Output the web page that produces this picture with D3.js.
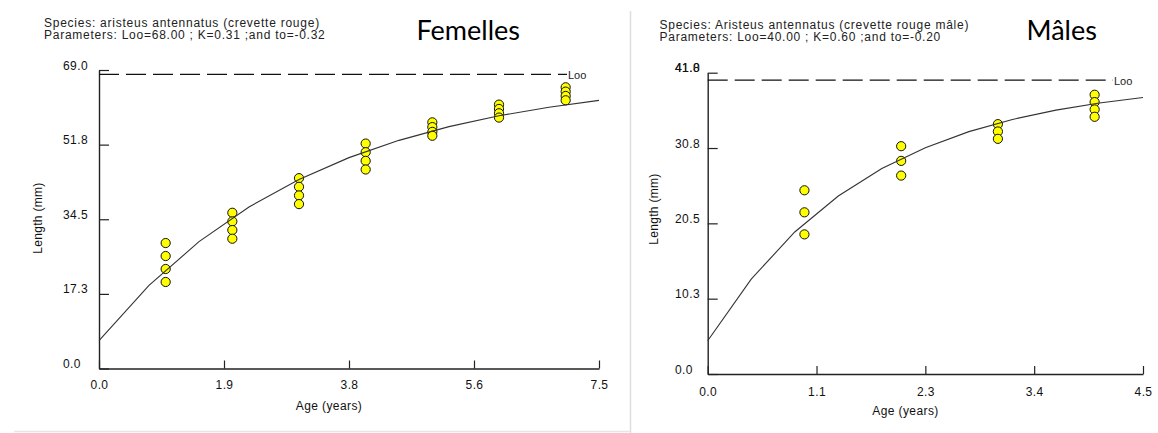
<!DOCTYPE html>
<html><head><meta charset="utf-8">
<script src="https://cdn.jsdelivr.net/npm/d3@7"></script>
<style>
html,body{margin:0;padding:0;background:#fff;}
svg{display:block;}
text{font-family:"Liberation Sans",Arial,sans-serif;fill:#111;}
</style></head><body>
<svg id="c" width="1158" height="433"></svg>
<script>
// ---------- data ----------
const titles = ["Femelles", "Mâles"];

const femaleHeader = ["Species: aristeus antennatus (crevette rouge)",
                      "Parameters: Loo=68.00 ; K=0.31 ;and to=-0.32"];
const femaleParams = [68.00, 0.31, -0.32]; // Loo, K, t0
const femaleAges    = [1,1,1,1, 2,2,2,2, 3,3,3,3, 4,4,4,4, 5,5,5,5, 6,6,6,6, 7,7,7,7];
const femaleLengths = [29,26,23,20, 36,34,32,30, 44,42,40,38, 52,50,48,46,
                       56.9,55.8,54.7,53.8, 61,60,59,58, 65,64,63,62];
const femaleXTicks  = [0, 1.875, 3.75, 5.625, 7.5];
const femaleXLabels = ["0.0","1.9","3.8","5.6","7.5"];
const femaleYTicks  = [0, 17.25, 34.5, 51.75, 69];
const femaleYLabels = ["0.0","17.3","34.5","51.8","69.0"];

const maleHeader = ["Species: Aristeus antennatus (crevette rouge mâle)",
                    "Parameters: Loo=40.00 ; K=0.60 ;and to=-0.20"];
const maleParams = [40.00, 0.60, -0.20];
const maleAges    = [1,1,1, 2,2,2, 3,3,3, 4,4,4,4];
const maleLengths = [25,22,19, 31,29,27, 34,33,32, 38,37,36,35];
const maleXTicks  = [0, 1.125, 2.25, 3.375, 4.5];
const maleXLabels = ["0.0","1.1","2.3","3.4","4.5"];
const maleYTicks  = [0, 10.25, 20.5, 30.75, 41];
const maleYLabels = ["0.0","10.3","20.5","30.8","41.0"];
const maleYOverprint = ["41.8"];

const xTitle = "Age (years)";
const yTitle = "Length (mm)";
const looLabel = "Loo";

// ---------- drawing ----------
const svg = d3.select("#c");

// faint frame of the left screenshot
svg.append("line").attr("x1",630.5).attr("x2",630.5).attr("y1",11).attr("y2",433)
   .attr("stroke","#dedede").attr("stroke-width",1.5);
svg.append("line").attr("x1",14).attr("x2",630).attr("y1",431.5).attr("y2",431.5)
   .attr("stroke","#e6e6e6").attr("stroke-width",1.5);

function panel(p, L){
  const x = d3.scaleLinear().domain([0, p.xTicks[p.xTicks.length-1]]).range([L.x0, L.x1]);
  const y = d3.scaleLinear().domain([0, p.yTicks[p.yTicks.length-1]]).range([L.yBot, L.yTop]);
  const g = svg.append("g");

  // header
  p.header.forEach((t,i)=>{
    g.append("text").attr("x",L.headX).attr("y",L.headY + i*12)
     .style("font-size","12px").style("letter-spacing","0.75px").style("fill","#222").text(t);
  });
  g.append("text").attr("x",L.titleX).attr("y",L.titleY)
   .style("font-family","Lato, 'Open Sans', sans-serif").style("font-size","27px")
   .style("fill","#000").text(p.title);

  // points (under the curve)
  g.append("g").selectAll("circle").data(p.ages.map((a,i)=>[a,p.lengths[i]]))
   .join("circle").attr("cx",d=>x(d[0])).attr("cy",d=>y(d[1])).attr("r",4.6)
   .attr("fill","#ffff00").attr("stroke","#111").attr("stroke-width",1);

  // axes
  const xa = d3.axisBottom(x).tickValues(p.xTicks).tickFormat((d,i)=>p.xLabels[i])
               .tickSizeInner(-8).tickSizeOuter(0);
  const gx = g.append("g").attr("transform",`translate(0,${L.yBot})`).call(xa);
  gx.selectAll("text").attr("y",L.xLabY).attr("dy",null)
    .style("font-size","12px").style("letter-spacing","0.4px").style("fill","#111");

  const ya = d3.axisLeft(y).tickValues(p.yTicks).tickFormat((d,i)=>p.yLabels[i])
               .tickSizeInner(-10).tickSizeOuter(0);
  const gy = g.append("g").attr("transform",`translate(${L.x0},0)`).call(ya);
  gy.selectAll("text").attr("x",L.labelX - L.x0).attr("dy",null).attr("y",-1)
    .attr("text-anchor","start")
    .style("font-size","12px").style("letter-spacing","0.4px").style("fill","#111");
  if (p.overprint){
    p.overprint.forEach(t=>{
      g.append("text").attr("x",L.labelX).attr("y",y(p.yTicks[p.yTicks.length-1])-1)
       .style("font-size","12px").style("letter-spacing","0.4px").style("fill","#111").text(t);
    });
  }
  [gx,gy].forEach(a=>{
    a.select(".domain").attr("stroke","#222").attr("stroke-width",1.4);
    a.selectAll(".tick line").attr("stroke","#222").attr("stroke-width",1.2);
    a.attr("font-family",null).attr("font-size",null);
  });

  // Loo asymptote
  const Loo = p.params[0], K = p.params[1], t0 = p.params[2];
  const xEnd = L.x1 - L.looGap;
  g.append("line").attr("x1",L.x0).attr("x2",xEnd).attr("y1",y(Loo)).attr("y2",y(Loo))
   .attr("stroke","#111").attr("stroke-width",1.2).attr("stroke-dasharray","20,7");
  g.append("text").attr("x",xEnd+1).attr("y",y(Loo)+5)
   .style("font-size","11px").style("fill","#222").text(looLabel);

  // von Bertalanffy curve from the printed parameters (11 samples, straight segments)
  const xMax = x.domain()[1];
  const ts = d3.range(11).map(i=>i*xMax/10);
  const line = d3.line().x(t=>x(t)).y(t=>y(Loo*(1-Math.exp(-K*(t - t0)))));
  g.append("path").attr("d",line(ts)).attr("fill","none")
   .attr("stroke","#333").attr("stroke-width",1.1);

  // axis titles
  g.append("text").attr("x",L.ageX).attr("y",L.ageY).attr("text-anchor","middle")
   .style("font-size","12px").style("letter-spacing","0.4px").text(xTitle);
  g.append("text").attr("transform",`translate(${L.lenX},${L.lenY}) rotate(-90)`)
   .attr("text-anchor","middle")
   .style("font-size","12px").style("letter-spacing","0.3px").text(yTitle);
}

panel({title:titles[0], header:femaleHeader, params:femaleParams, ages:femaleAges, lengths:femaleLengths,
       xTicks:femaleXTicks, xLabels:femaleXLabels, yTicks:femaleYTicks, yLabels:femaleYLabels},
      {x0:99, x1:599, yTop:70, yBot:368.5, labelX:63, headX:44, headY:27, titleX:416.5, titleY:40,
       ageX:329, ageY:410, lenX:42, lenY:218, xLabY:20.5, looGap:32});

panel({title:titles[1], header:maleHeader, params:maleParams, ages:maleAges, lengths:maleLengths,
       xTicks:maleXTicks, xLabels:maleXLabels, yTicks:maleYTicks, yLabels:maleYLabels, overprint:maleYOverprint},
      {x0:707.7, x1:1143, yTop:72.7, yBot:374, labelX:675, headX:659.5, headY:29, titleX:1026.5, titleY:40,
       ageX:905.5, ageY:415, lenX:657.5, lenY:209, xLabY:21.5, looGap:30});
</script>
</body></html>
